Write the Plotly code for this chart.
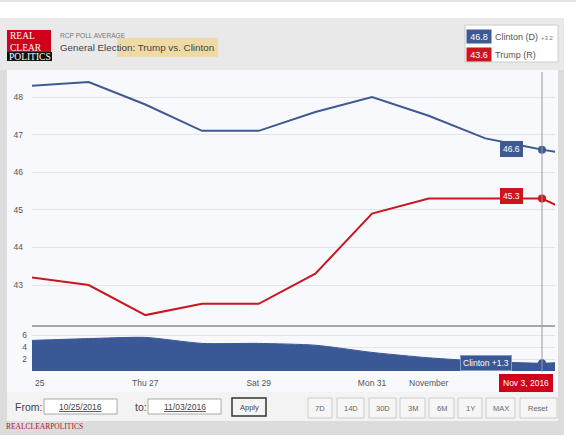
import plotly.graph_objects as go

# ---------------- data ----------------
dates = ["2016-10-25", "2016-10-26", "2016-10-27", "2016-10-28", "2016-10-29",
         "2016-10-30", "2016-10-31", "2016-11-01", "2016-11-02", "2016-11-03",
         "2016-11-04"]
clinton = [48.3, 48.4, 47.8, 47.1, 47.1, 47.6, 48.0, 47.5, 46.9, 46.6, 46.35]
trump = [43.2, 43.0, 42.2, 42.5, 42.5, 43.3, 44.9, 45.3, 45.3, 45.3, 44.6]
spread = [5.1, 5.4, 5.6, 4.6, 4.6, 4.3, 3.1, 2.2, 1.6, 1.3, 1.75]
x_tick_vals = ["2016-10-27", "2016-10-29", "2016-10-31", "2016-11-01"]
x_tick_text = ["Thu 27", "Sat 29", "Mon 31", "November"]
y_main_ticks = [43, 44, 45, 46, 47, 48]
y_spread_ticks = [2, 4, 6]
sel_date = "2016-11-03"
sel_clinton = 46.6
sel_trump = 45.3
sel_spread = 1.3
legend_clinton = "46.8"
legend_trump = "43.6"
legend_spread = "+3.2"
buttons = ["7D", "14D", "30D", "3M", "6M", "1Y", "MAX", "Reset"]

W, H = 576, 448
def X(px): return px / W
def Y(py): return 1 - py / H

BLUE = "#3d5a94"
RED = "#c9161f"
FONT = "Liberation Sans, Arial, sans-serif"
SERIF = "Liberation Serif, Times New Roman, serif"

fig = go.Figure()
fig.add_trace(go.Scatter(x=dates, y=clinton, mode="lines", line=dict(color=BLUE, width=2),
                         xaxis="x", yaxis="y", hoverinfo="skip"))
fig.add_trace(go.Scatter(x=dates, y=trump, mode="lines", line=dict(color=RED, width=2),
                         xaxis="x", yaxis="y", hoverinfo="skip"))
fig.add_trace(go.Scatter(x=[sel_date, sel_date], y=[sel_clinton, sel_trump], mode="markers",
                         marker=dict(color=[BLUE, RED], size=8), xaxis="x", yaxis="y"))
fig.add_trace(go.Scatter(x=dates, y=spread, mode="lines", fill="tozeroy",
                         line=dict(color="#3a5796", width=1, shape="spline", smoothing=0.6),
                         fillcolor="#3a5796", xaxis="x2", yaxis="y2", hoverinfo="skip"))
fig.add_trace(go.Scatter(x=[sel_date], y=[sel_spread], mode="markers",
                         marker=dict(color="#3a5796", size=8), xaxis="x2", yaxis="y2"))

xr = ["2016-10-25", "2016-11-03 05:30"]
ymain_range = [48 - (325 - 97) / 37.6, 48 + (97 - 72) / 37.6]

fig.update_layout(
    width=W, height=H, margin=dict(l=0, r=0, t=0, b=0),
    paper_bgcolor="white", plot_bgcolor="rgba(0,0,0,0)", showlegend=False,
    font=dict(family=FONT, size=9, color="#555"),
    xaxis=dict(domain=[X(32), X(555)], range=xr, type="date", anchor="y",
               showticklabels=False, showgrid=False, zeroline=False,
               showline=True, linecolor="#a8a8a8", linewidth=1.5, ticks=""),
    yaxis=dict(domain=[Y(325), Y(72)], range=ymain_range, tickvals=y_main_ticks,
               gridcolor="#e2e4e8", zeroline=False, showline=False, ticks="",
               ticklabelstandoff=8,
               tickfont=dict(size=8.5, color="#555"), anchor="x"),
    xaxis2=dict(domain=[X(32), X(555)], range=xr, type="date", anchor="y2", matches="x",
                tickvals=x_tick_vals, ticktext=x_tick_text, showgrid=False, zeroline=False,
                ticks="", ticklabelstandoff=5,
                tickfont=dict(size=8.5, color="#555"), showline=False),
    yaxis2=dict(domain=[Y(371), Y(328)], range=[0, (371 - 328) / 6], tickvals=y_spread_ticks,
                gridcolor="#e2e4e8", zeroline=False, showline=False, ticks="",
                ticklabelstandoff=4,
                tickfont=dict(size=8.5, color="#555"), anchor="x2"),
)

shapes = []
def rect(x0, y0, x1, y1, fill, line="rgba(0,0,0,0)", lw=0, layer="below"):
    shapes.append(dict(type="rect", xref="paper", yref="paper", x0=X(x0), x1=X(x1),
                       y0=Y(y1), y1=Y(y0), fillcolor=fill, line=dict(color=line, width=lw),
                       layer=layer))

# background frame
shapes.append(dict(type="line", xref="paper", yref="paper", x0=0, x1=1, y0=Y(1), y1=Y(1),
                   line=dict(color="#c8c8c8", width=1), layer="below"))
rect(0, 18, 564, 435, "#dcdcdc")
rect(0, 18, 564, 70, "#e9e9e9")
rect(7, 70, 558, 392, "#f8f9fc")
rect(7, 392, 558, 421, "#f3f3f3")
# highlighter
rect(117, 38, 218, 57, "rgba(244,204,110,0.55)")
# logo
rect(7, 30, 51, 52, "#d0021b")
rect(7, 52, 52, 61, "#111111")
# legend box
rect(465, 25, 558, 62, "white", "#cccccc", 1)
# inputs
rect(44, 399, 117, 414, "white", "#aaaaaa", 1)
rect(148, 399, 221, 414, "white", "#aaaaaa", 1)
rect(232, 398, 266, 416, "#f4f4f4", "#333333", 1.5)
btn_x = [(308, 332), (337, 364), (369, 396), (400, 425), (429, 454), (458, 482), (486, 515), (520, 557)]
for (a, b) in btn_x:
    rect(a, 398, b, 418, "#f6f6f6", "#cccccc", 1)

# crosshair
shapes.append(dict(type="line", xref="x", yref="paper", x0=sel_date, x1=sel_date,
                   y0=Y(372), y1=Y(72), line=dict(color="#9a9a9a", width=1), layer="above"))
fig.update_layout(shapes=shapes)

ann = []
def txt(x, y, s, size=9, color="#555", xanchor="left", family=FONT, **kw):
    ann.append(dict(xref="paper", yref="paper", x=X(x), y=Y(y), text=s, showarrow=False,
                    xanchor=xanchor, yanchor="middle", font=dict(size=size, color=color, family=family), **kw))

# header
txt(8, 41.5, "REAL<br>CLEAR", 9.5, "white", family=SERIF, align="left")
txt(7, 57, "POLITICS", 9.5, "white", family=SERIF)
txt(58, 35, "RCP POLL AVERAGE", 6.6, "#777")
txt(58, 47, "General Election: Trump vs. Clinton", 9.8, "#444")
# legend
txt(478.5, 37, legend_clinton, 9, "white", xanchor="center", bgcolor=BLUE, width=22, height=11)
txt(478.5, 55, legend_trump, 9, "white", xanchor="center", bgcolor=RED, width=22, height=11)
txt(493, 37, "Clinton (D)", 9, "#555")
txt(539, 38, legend_spread, 6, "#777")
txt(493, 55, "Trump (R)", 9, "#555")
# x label "25"
txt(40, 383, "25", 8.5, "#555", xanchor="center")
# flags
ann.append(dict(xref="x", yref="y", x=sel_date, y=sel_clinton, text="46.6", showarrow=False,
                xanchor="right", xshift=-19, yshift=1, bgcolor=BLUE, bordercolor=BLUE, borderpad=2,
                font=dict(size=8.5, color="white", family=FONT)))
ann.append(dict(xref="x", yref="y", x=sel_date, y=sel_trump, text="45.3", showarrow=False,
                xanchor="right", xshift=-19, yshift=3, bgcolor=RED, bordercolor=RED, borderpad=2,
                font=dict(size=8.5, color="white", family=FONT)))
ann.append(dict(xref="x2", yref="y2", x=sel_date, y=sel_spread, text="Clinton +1.3", showarrow=False,
                xanchor="right", xshift=-30, bgcolor="#3a5796", bordercolor="#7f9acb", borderpad=2,
                font=dict(size=8.5, color="white", family=FONT)))
ann.append(dict(xref="x2", yref="paper", x=sel_date, y=Y(383), text="Nov 3, 2016", showarrow=False,
                xanchor="right", yanchor="middle", xshift=11, bgcolor="#d0021b", bordercolor="#d0021b",
                borderpad=3, font=dict(size=8.5, color="white", family=FONT)))
# controls
txt(13, 407, "From:", 10.5, "#444")
txt(80.5, 406.5, "<u>10/25/2016</u>", 8.5, "#444", xanchor="center")
txt(133, 407, "to:", 10.5, "#444")
txt(184.5, 406.5, "<u>11/03/2016</u>", 8.5, "#444", xanchor="center")
txt(249, 407, "Apply", 7.5, "#444", xanchor="center")
for (a, b), lab in zip(btn_x, buttons):
    txt((a + b) / 2, 408, lab, 7.5, "#666", xanchor="center")
txt(4, 426, "REALCLEARPOLITICS", 7.5, "#a0202a", family=SERIF)

fig.update_layout(annotations=ann)
fig.write_html("out.html")
